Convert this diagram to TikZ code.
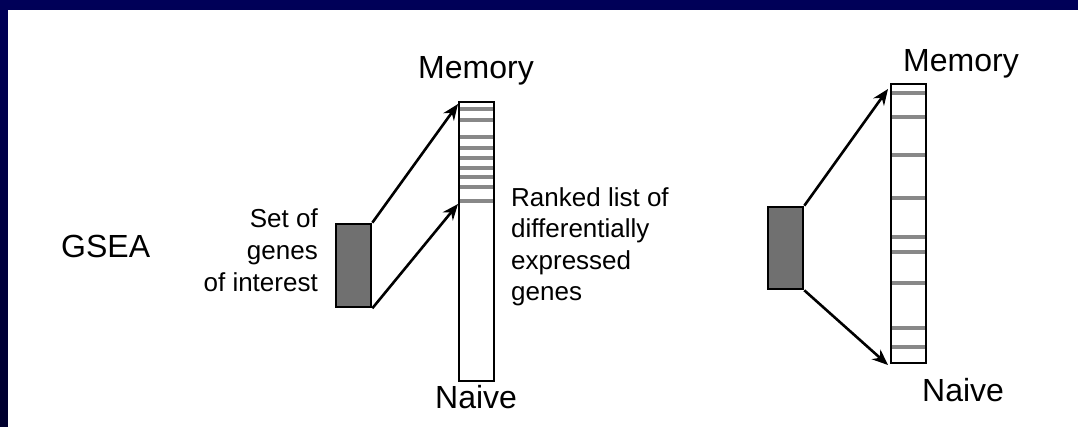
\documentclass[tikz,border=0pt]{standalone}
\usepackage{fontspec}
\setmainfont{Liberation Sans}
\usetikzlibrary{arrows.meta}
\definecolor{navytop}{RGB}{0,0,88}
\definecolor{navybot}{RGB}{0,0,46}
\definecolor{boxgray}{RGB}{112,112,112}
\definecolor{stripegray}{RGB}{136,136,136}
\begin{document}
\begin{tikzpicture}[x=1pt,y=-1pt,
  col/.style={draw=black,line width=2.6pt,inner sep=0pt,minimum width=35pt,minimum height=279pt},
  genebox/.style={draw=black,line width=2.6pt,fill=boxgray,inner sep=0pt,minimum width=35pt},
  stripe/.style={draw=stripegray,line width=4.5pt},
  arr/.style={line width=2.6pt,-{Stealth[length=16pt,width=13pt]}},
  big/.style={font=\fontsize{32}{38}\selectfont,inner sep=0pt},
  small/.style={font=\fontsize{26}{32}\selectfont,inner sep=0pt}]
\useasboundingbox (0,0) rectangle (1078,426);
\shade[top color=navytop,bottom color=navybot] (0,0) rectangle (1078,426);
\fill[white] (8,10) rectangle (1090,440);

% stripes
\foreach \y in {109,120,137,148,158,168,177,187,201}
  \draw[stripe] (460,\y) -- (493,\y);
\foreach \y in {93,117,155,198,237,252,283,328,347}
  \draw[stripe] (892,\y) -- (925,\y);

% columns
\node[col] (colL) at (476.5,241.5) {};
\node[col] (colR) at (908.5,223.5) {};

% gene set boxes
\node[genebox,minimum height=83pt] (setL) at (353.5,265.5) {};
\node[genebox,minimum height=82pt] (setR) at (785.5,248) {};

% arrow targets
\coordinate (tL1) at (458,104);
\coordinate (tL2) at (458,204);
\coordinate (tR1) at (888,89);
\coordinate (tR2) at (888,365);

\draw[arr] (setL.north east) -- (tL1);
\draw[arr] (setL.south east) -- (tL2);
\draw[arr] (setR.north east) -- (tR1);
\draw[arr] (setR.south east) -- (tR2);

% labels
\node[big,anchor=base west] (gsea) at (61,257) {GSEA};
\node[big,anchor=base west] (memL) at (418,78) {Memory};
\node[big,anchor=base west] (naiL) at (435,408) {Naive};
\node[big,anchor=base west] (memR) at (903,71) {Memory};
\node[big,anchor=base west] (naiR) at (922,401) {Naive};

\node[small,anchor=base east] (s1) at (318,227) {Set of};
\node[small,anchor=base east] (s2) at (318,259) {genes};
\node[small,anchor=base east] (s3) at (318,291) {of interest};

\node[small,anchor=base west] (r1) at (511,206) {Ranked list of};
\node[small,anchor=base west] (r2) at (511,237.5) {differentially};
\node[small,anchor=base west] (r3) at (511,269) {expressed};
\node[small,anchor=base west] (r4) at (511,300.5) {genes};
\end{tikzpicture}
\end{document}
